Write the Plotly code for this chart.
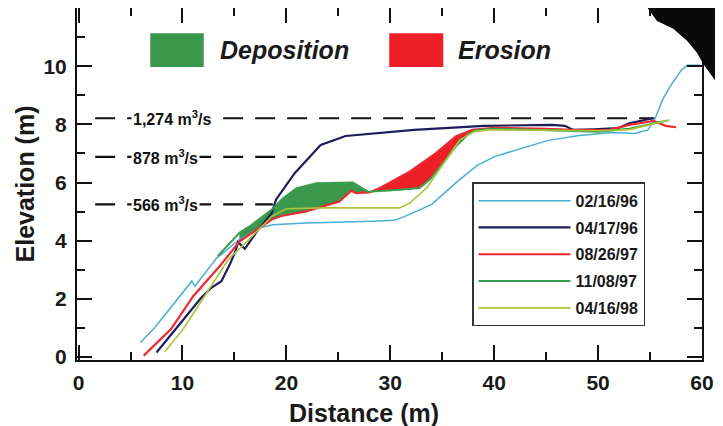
import plotly.graph_objects as go

# ---------------- data ----------------
x_960216 = [5.96, 7.34, 10.9, 11.2, 13.3, 13.75, 15.5, 17.4, 18.7, 21.9, 28.3, 30.4, 31.3,
            34.0, 36.5, 38.4, 40.1, 45.2, 48.2, 51.4, 53.5, 54.8, 55.5, 56.2, 56.9, 58.0, 58.6, 59.8]
y_960216 = [0.50, 1.02, 2.61, 2.44, 3.41, 3.53, 4.05, 4.44, 4.55, 4.61, 4.67, 4.70, 4.82,
            5.25, 6.05, 6.60, 6.90, 7.45, 7.62, 7.72, 7.69, 7.81, 8.21, 8.84, 9.29, 9.86, 10.03, 10.03]

x_960417 = [7.5, 9.5, 11.8, 12.8, 13.75, 14.55, 15.1, 15.35, 16.0, 16.5, 17.3, 18.6, 19.0,
            20.8, 23.3, 25.7, 32.3, 39.0, 45.6, 46.8, 47.6, 49.6, 51.9, 53.0, 55.3]
y_960417 = [0.16, 1.05, 2.04, 2.39, 2.61, 3.18, 3.64, 3.95, 3.72, 3.98, 4.38, 4.95, 5.41,
            6.32, 7.29, 7.60, 7.81, 7.95, 7.98, 7.95, 7.81, 7.83, 7.87, 8.04, 8.21]

x_970826 = [6.27, 8.9, 11.05, 13.6, 15.5, 16.5, 18.7, 19.5, 21.9, 25.1, 26.25, 26.7, 28.0,
            29.0, 31.9, 34.4, 36.3, 37.9, 40.0, 45.0, 48.0, 51.0, 53.0, 54.9, 55.3, 55.9, 56.5, 57.5]
y_970826 = [0.05, 0.96, 2.10, 3.13, 3.98, 4.22, 4.75, 4.85, 5.01, 5.35, 5.72, 5.64, 5.66,
            5.81, 6.38, 7.01, 7.58, 7.81, 7.88, 7.85, 7.80, 7.80, 7.98, 8.09, 8.13, 8.04, 7.95, 7.90]

x_971108 = [13.4, 15.5, 16.5, 18.7, 19.7, 21.0, 22.9, 26.4, 27.0, 27.9, 30.9, 32.8, 33.8,
            35.1, 36.3, 37.6, 38.4, 40.0, 45.0, 50.0, 53.0, 55.6, 56.7]
y_971108 = [3.47, 4.28, 4.50, 5.10, 5.47, 5.81, 5.98, 6.00, 5.87, 5.68, 5.75, 5.81, 6.10,
            6.67, 7.24, 7.69, 7.81, 7.85, 7.80, 7.75, 7.85, 8.06, 8.13]

x_980416 = [8.3, 10.06, 13.9, 14.55, 16.4, 18.6, 20.0, 23.5, 30.9, 31.9, 33.5, 36.7, 38.1,
            39.4, 45.0, 50.0, 53.0, 56.9]
y_980416 = [0.18, 0.96, 3.07, 3.41, 4.04, 4.84, 5.10, 5.13, 5.13, 5.30, 5.81, 7.47, 7.75,
            7.81, 7.80, 7.78, 7.82, 8.15]

series_names = ["02/16/96", "04/17/96", "08/26/97", "11/08/97", "04/16/98"]

flow_labels = ["1,274 m<sup>3</sup>/s", "878 m<sup>3</sup>/s", "566 m<sup>3</sup>/s"]
flow_levels = [8.21, 6.88, 5.25]
flow_x_start = [1.6, 1.6, 1.6]
flow_x_end = [55.4, 21.0, 18.7]

deposition_range = (15.5, 27.95)
erosion_range = (27.9, 38.4)

x_ticks = [0, 10, 20, 30, 40, 50, 60]
y_ticks = [0, 2, 4, 6, 8, 10]

# ---------------- styles ----------------
colors = ["#4aaed3", "#1e1c5a", "#ec2a32", "#3a9d50", "#a8c53c"]
widths = [1.5, 2.2, 2.2, 2.0, 1.6]
dep_color = "#3a984c"
ero_color = "#ee1f27"
FONT = "Liberation Sans, Arial, Helvetica, sans-serif"

fig = go.Figure()


def band(xa, ya, xb, yb, lo, hi):
    """polygon: line a forward, line b backward, within [lo, hi]"""
    ta = [(x, y) for x, y in zip(xa, ya) if lo <= x <= hi]
    tb = [(x, y) for x, y in zip(xb, yb) if lo <= x <= hi]
    pts = ta + tb[::-1]
    return [p[0] for p in pts] + [pts[0][0]], [p[1] for p in pts] + [pts[0][1]]


# deposition: 11/08/97 above 08/26/97
dx, dy = band(x_971108, y_971108, x_970826, y_970826, *deposition_range)
fig.add_trace(go.Scatter(x=dx, y=dy, fill="toself", fillcolor=dep_color, mode="lines",
                         line=dict(color=dep_color, width=0.5), showlegend=False, hoverinfo="skip"))
# erosion: 08/26/97 above 11/08/97
ex, ey = band(x_970826, y_970826, x_971108, y_971108, *erosion_range)
fig.add_trace(go.Scatter(x=ex, y=ey, fill="toself", fillcolor=ero_color, mode="lines",
                         line=dict(color=ero_color, width=0.5), showlegend=False, hoverinfo="skip"))

# flow level dashed lines
for lvl, xs, xe in zip(flow_levels, flow_x_start, flow_x_end):
    fig.add_trace(go.Scatter(x=[xs, xe], y=[lvl, lvl], mode="lines",
                             line=dict(color="#111111", width=2.2, dash="20px,12px"),
                             showlegend=False, hoverinfo="skip"))
for lab, lvl in zip(flow_labels, flow_levels):
    fig.add_annotation(x=5.0, y=lvl, text=lab, showarrow=False, xanchor="left", yanchor="middle",
                       bgcolor="white", borderpad=1,
                       font=dict(family=FONT, size=16, color="#111111", weight="bold"))

all_x = [x_960216, x_960417, x_970826, x_971108, x_980416]
all_y = [y_960216, y_960417, y_970826, y_971108, y_980416]
for name, xs, ys, c, w in zip(series_names, all_x, all_y, colors, widths):
    fig.add_trace(go.Scatter(x=xs, y=ys, mode="lines", name=name, legendgroup=name,
                             line=dict(color=c, width=w)))

# Deposition / Erosion key
fig.add_shape(type="rect", xref="x", yref="y", x0=6.9, x1=12.05, y0=9.97, y1=11.13,
              fillcolor=dep_color, line=dict(width=0))
fig.add_shape(type="rect", xref="x", yref="y", x0=29.9, x1=35.1, y0=9.97, y1=11.13,
              fillcolor=ero_color, line=dict(width=0))
fig.add_annotation(x=13.4, y=10.55, text="<i>Deposition</i>", showarrow=False, xanchor="left",
                   font=dict(family=FONT, size=25, color="#1a1a1a", weight="bold"))
fig.add_annotation(x=36.3, y=10.55, text="<i>Erosion</i>", showarrow=False, xanchor="left",
                   font=dict(family=FONT, size=25, color="#1a1a1a", weight="bold"))

# x axis title (placed to match the reference, slightly left of centre)
fig.add_annotation(xref="paper", yref="paper", x=0.459, y=-0.105, xanchor="center", yanchor="top",
                   text="Distance (m)", showarrow=False,
                   font=dict(family=FONT, size=25, color="#1a1a1a", weight="bold"))

# dark scanning artifact in upper-right corner
fig.add_shape(type="path", xref="paper", yref="paper", layer="above",
              path="M 0.905 1.05 L 0.914 0.997 L 0.928 0.963 L 0.954 0.941 L 0.976 0.907 "
                   "L 0.992 0.873 L 1.002 0.841 L 1.018 0.802 L 1.034 0.755 L 1.06 0.72 "
                   "L 1.06 1.05 Z",
              fillcolor="#0a0a0a", line=dict(width=0))

axis_common = dict(showline=True, linecolor="#111111", linewidth=2, mirror="allticks",
                   ticks="inside", tickwidth=2, tickcolor="#111111", ticklen=15,
                   showgrid=False, zeroline=False, automargin=False,
                   tickfont=dict(family=FONT, size=21, color="#1a1a1a", weight="bold"))

# the page adds an 8px body margin, so the figure is 8px smaller than the window
fig.update_layout(
    width=715, height=418,
    margin=dict(l=69, r=21, t=0, b=66),
    paper_bgcolor="white", plot_bgcolor="white",
    xaxis=dict(range=[-0.15, 60.0], tickvals=x_ticks, ticklabelstandoff=3,
               minor=dict(dtick=5, ticks="inside", ticklen=8, tickwidth=2, tickcolor="#111111"),
               **axis_common),
    yaxis=dict(range=[-0.1, 12.0], tickvals=y_ticks, ticklabelstandoff=4,
               minor=dict(dtick=1, ticks="inside", ticklen=8, tickwidth=2, tickcolor="#111111"),
               title=dict(text="Elevation (m)", standoff=2,
                          font=dict(family=FONT, size=25, color="#1a1a1a", weight="bold")),
               **axis_common),
    legend=dict(x=0.632, y=0.505, xanchor="left", yanchor="top",
                bgcolor="white", bordercolor="#333333", borderwidth=1.5,
                font=dict(family=FONT, size=16, color="#1a1a1a", weight="bold"),
                itemwidth=92, tracegroupgap=3),
    showlegend=True,
)

fig.write_html("out.html")
